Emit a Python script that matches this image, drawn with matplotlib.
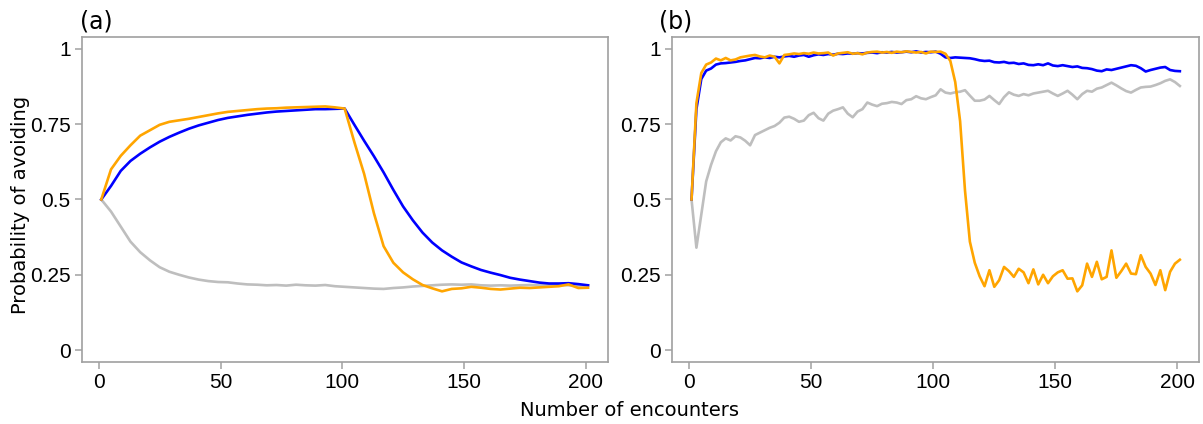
import numpy as np
import matplotlib.pyplot as plt
from matplotlib import font_manager

# encounters
x_a = np.arange(1, 202, 4)
x_b = np.arange(1, 202, 2)

# panel (a)
blue_a = [0.500, 0.545, 0.595, 0.628, 0.652, 0.673, 0.692, 0.708, 0.722, 0.735,
          0.746, 0.755, 0.764, 0.771, 0.776, 0.781, 0.785, 0.789, 0.792, 0.794,
          0.796, 0.798, 0.800, 0.800, 0.801, 0.802, 0.748, 0.695, 0.644, 0.590,
          0.532, 0.477, 0.431, 0.390, 0.357, 0.331, 0.310, 0.291, 0.278, 0.266,
          0.257, 0.249, 0.240, 0.234, 0.229, 0.224, 0.221, 0.221, 0.222, 0.219,
          0.215]
orange_a = [0.500, 0.600, 0.645, 0.680, 0.712, 0.730, 0.748, 0.758, 0.763, 0.768,
            0.774, 0.780, 0.786, 0.791, 0.794, 0.797, 0.800, 0.802, 0.803, 0.805,
            0.806, 0.807, 0.808, 0.809, 0.806, 0.802, 0.690, 0.585, 0.455, 0.345,
            0.290, 0.258, 0.235, 0.216, 0.205, 0.195, 0.203, 0.205, 0.210, 0.207,
            0.203, 0.201, 0.204, 0.207, 0.206, 0.208, 0.210, 0.212, 0.218, 0.206,
            0.207]
gray_a = [0.500, 0.460, 0.410, 0.360, 0.325, 0.298, 0.275, 0.260, 0.250, 0.241,
          0.234, 0.229, 0.226, 0.225, 0.221, 0.218, 0.217, 0.215, 0.216, 0.214,
          0.217, 0.215, 0.214, 0.216, 0.212, 0.210, 0.208, 0.206, 0.204, 0.203,
          0.206, 0.208, 0.211, 0.213, 0.215, 0.217, 0.218, 0.217, 0.218, 0.215,
          0.214, 0.215, 0.214, 0.215, 0.216, 0.215, 0.216, 0.217, 0.215, 0.214,
          0.215]

# panel (b)
blue_b = [0.500, 0.800, 0.900, 0.928, 0.935, 0.948, 0.952, 0.953, 0.955, 0.957,
          0.960, 0.962, 0.966, 0.970, 0.969, 0.972, 0.970, 0.974, 0.972, 0.975,
          0.977, 0.974, 0.978, 0.980, 0.974, 0.979, 0.982, 0.980, 0.983, 0.981,
          0.984, 0.983, 0.985, 0.984, 0.986, 0.985, 0.987, 0.988, 0.986, 0.989,
          0.988, 0.990, 0.988, 0.989, 0.991, 0.989, 0.992, 0.988, 0.990, 0.989,
          0.991, 0.984, 0.972, 0.970, 0.972, 0.971, 0.970, 0.969, 0.966, 0.962,
          0.960, 0.961, 0.956, 0.955, 0.957, 0.953, 0.954, 0.950, 0.952, 0.947,
          0.946, 0.949, 0.946, 0.952, 0.945, 0.943, 0.946, 0.943, 0.940, 0.942,
          0.937, 0.936, 0.933, 0.928, 0.926, 0.932, 0.930, 0.934, 0.938, 0.942,
          0.946, 0.944, 0.936, 0.925, 0.930, 0.934, 0.938, 0.940, 0.930, 0.927,
          0.926]
orange_b = [0.500, 0.820, 0.920, 0.948, 0.955, 0.968, 0.962, 0.970, 0.962, 0.965,
            0.972, 0.975, 0.978, 0.980, 0.975, 0.972, 0.978, 0.974, 0.952, 0.980,
            0.982, 0.985, 0.983, 0.986, 0.984, 0.988, 0.985, 0.986, 0.988, 0.978,
            0.985, 0.987, 0.989, 0.984, 0.986, 0.982, 0.988, 0.990, 0.991, 0.988,
            0.990, 0.987, 0.991, 0.989, 0.992, 0.990, 0.988, 0.990, 0.985, 0.991,
            0.990, 0.991, 0.984, 0.960, 0.890, 0.760, 0.530, 0.360, 0.290, 0.245,
            0.212, 0.265, 0.210, 0.232, 0.276, 0.262, 0.243, 0.270, 0.258, 0.222,
            0.268, 0.218, 0.250, 0.222, 0.245, 0.258, 0.265, 0.237, 0.238, 0.195,
            0.215, 0.287, 0.243, 0.293, 0.235, 0.243, 0.331, 0.240, 0.262, 0.287,
            0.254, 0.252, 0.315, 0.276, 0.254, 0.216, 0.265, 0.199, 0.260, 0.287,
            0.300]
gray_b = [0.500, 0.340, 0.450, 0.560, 0.615, 0.660, 0.690, 0.703, 0.696, 0.710,
          0.706, 0.695, 0.680, 0.714, 0.722, 0.730, 0.738, 0.744, 0.755, 0.772,
          0.775, 0.768, 0.758, 0.762, 0.780, 0.788, 0.770, 0.762, 0.785, 0.795,
          0.800, 0.806, 0.785, 0.773, 0.792, 0.800, 0.822, 0.815, 0.810, 0.818,
          0.820, 0.824, 0.822, 0.817, 0.830, 0.833, 0.843, 0.836, 0.833, 0.840,
          0.846, 0.866, 0.855, 0.852, 0.856, 0.858, 0.863, 0.845, 0.828, 0.828,
          0.832, 0.844, 0.830, 0.817, 0.840, 0.856, 0.848, 0.844, 0.850, 0.846,
          0.852, 0.855, 0.858, 0.861, 0.852, 0.844, 0.852, 0.861, 0.848, 0.833,
          0.850, 0.861, 0.858, 0.868, 0.872, 0.880, 0.888, 0.879, 0.869, 0.860,
          0.855, 0.864, 0.872, 0.874, 0.875, 0.880, 0.886, 0.894, 0.899, 0.890,
          0.877]

x_ticks = [0, 50, 100, 150, 200]
y_ticks = [0, 0.25, 0.5, 0.75, 1]
y_tick_labels = ["0", "0.25", "0.5", "0.75", "1"]

# narrow arial-like tick labels if we have them
installed = {f.name for f in font_manager.fontManager.ttflist}
if "Liberation Sans Narrow" in installed:
    tick_font, tick_size = "Liberation Sans Narrow", 16
else:
    tick_font, tick_size = "Liberation Sans", 15
frame_col = "#a0a0a0"

fig = plt.figure(figsize=(12.03, 4.24), dpi=100)
ax_a = fig.add_axes([0.068, 0.146, 0.437, 0.767])
ax_b = fig.add_axes([0.5586, 0.146, 0.4384, 0.767])


def style_axis(ax):
    ax.set_xlim(-7, 209)
    ax.set_ylim(-0.04, 1.04)
    ax.set_xticks(x_ticks, [str(t) for t in x_ticks])
    ax.set_yticks(y_ticks, y_tick_labels)
    ax.tick_params(direction="out", length=5, width=1.1, color=frame_col, pad=3,
                   labelsize=tick_size, labelfontfamily=tick_font)
    for sp in ax.spines.values():
        sp.set_color(frame_col)
        sp.set_linewidth(1.2)


# gray underneath, then blue, then orange on top
ax_a.plot(x_a, gray_a, color="#bebebe", lw=1.9)
ax_a.plot(x_a, blue_a, color="#0000ff", lw=1.9)
ax_a.plot(x_a, orange_a, color="#ffa500", lw=1.9)
style_axis(ax_a)

ax_b.plot(x_b, gray_b, color="#bebebe", lw=1.9)
ax_b.plot(x_b, blue_b, color="#0000ff", lw=1.9)
ax_b.plot(x_b, orange_b, color="#ffa500", lw=1.9)
style_axis(ax_b)

fig.text(21 / 1203, 1 - 205 / 424, "Probability of avoiding", fontsize=14,
         rotation=90, ha="center", va="center")
fig.text(630 / 1203, 1 - 410 / 424, "Number of encounters", fontsize=14,
         ha="center", va="center")
fig.text(80 / 1203, 1 - 21 / 424, "(a)", fontsize=17, ha="left", va="center")
fig.text(659 / 1203, 1 - 21 / 424, "(b)", fontsize=17, ha="left", va="center")

plt.savefig("out.png", dpi=100)
